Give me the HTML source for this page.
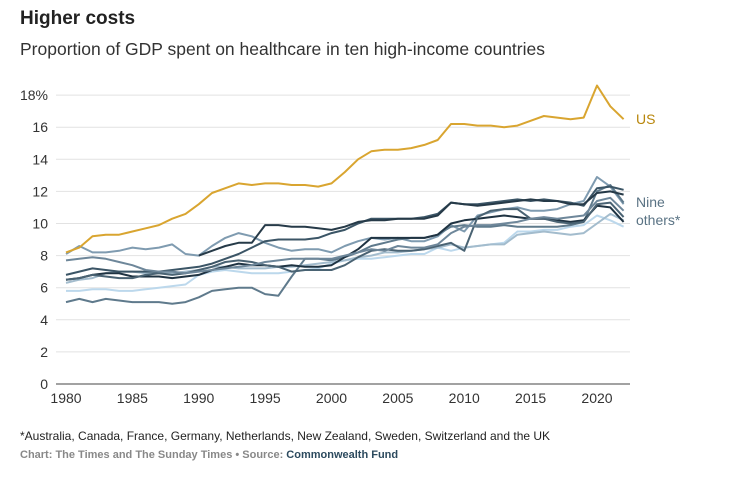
<!DOCTYPE html>
<html><head><meta charset="utf-8"><style>
body{margin:0;background:#fff;font-family:"Liberation Sans",Arial,sans-serif;}
svg{display:block}
</style></head><body>
<svg width="737" height="478" id="c">
<text x="20" y="24" font-size="19" font-weight="bold" fill="#222">Higher costs</text>
<text x="20" y="55" font-size="17.5" fill="#333">Proportion of GDP spent on healthcare in ten high-income countries</text>
<g id="grid"></g>
<g id="lines"></g>
<text x="636" y="124" font-size="14" fill="#b8860b">US</text>
<text x="636" y="207" font-size="14" fill="#5a7384">Nine</text>
<text x="636" y="225" font-size="14" fill="#5a7384">others*</text>
<text x="20" y="440" font-size="12" fill="#222">*Australia, Canada, France, Germany, Netherlands, New Zealand, Sweden, Switzerland and the UK</text>
<text x="20" y="458" font-size="11" font-weight="bold" fill="#888">Chart: The Times and The Sunday Times • Source: <tspan fill="#2c4a5e">Commonwealth Fund</tspan></text>
</svg>
<script>
const startYear=1980;
const xTicks=[1980,1985,1990,1995,2000,2005,2010,2015,2020];
const yTicks=[0,2,4,6,8,10,12,14,16,18];
const us=[8.2,8.5,9.2,9.3,9.3,9.5,9.7,9.9,10.3,10.6,11.2,11.9,12.2,12.5,12.4,12.5,12.5,12.4,12.4,12.3,12.5,13.2,14.0,14.5,14.6,14.6,14.7,14.9,15.2,16.2,16.2,16.1,16.1,16.0,16.1,16.4,16.7,16.6,16.5,16.6,18.6,17.3,16.5];
const s1=[5.8,5.8,5.9,5.9,5.8,5.8,5.9,6.0,6.1,6.2,6.8,7.0,7.1,7.0,6.9,6.9,6.9,7.0,7.1,7.2,7.5,7.7,7.8,7.8,7.9,8.0,8.1,8.1,8.5,8.3,8.5,8.6,8.7,8.8,9.5,9.5,9.6,9.6,9.8,9.9,10.5,10.2,9.8];
const s2=[8.1,8.6,8.2,8.2,8.3,8.5,8.4,8.5,8.7,8.1,8.0,8.6,9.1,9.4,9.2,8.8,8.5,8.3,8.4,8.4,8.2,8.6,8.9,9.1,9.0,9.1,8.9,8.9,9.2,9.9,9.5,10.5,10.7,10.9,11.0,10.8,10.8,10.9,11.2,11.4,12.9,12.3,11.2];
const s3=[5.1,5.3,5.1,5.3,5.2,5.1,5.1,5.1,5.0,5.1,5.4,5.8,5.9,6.0,6.0,5.6,5.5,6.7,7.8,7.8,7.7,7.9,8.2,8.6,8.8,9.0,9.1,9.1,9.3,9.8,9.9,9.8,9.8,9.9,9.8,9.8,9.8,9.8,9.9,10.1,12.0,12.4,11.3];
const s4=[6.3,6.5,6.6,6.9,7.0,7.0,6.9,6.9,6.9,7.0,7.1,7.3,7.3,7.2,7.2,7.2,7.3,7.3,7.4,7.5,7.6,7.7,7.9,8.0,8.2,8.2,8.3,8.4,8.5,8.7,8.5,8.6,8.7,8.7,9.3,9.4,9.5,9.4,9.3,9.4,10.0,10.6,10.2];
const s5=[6.5,6.6,6.8,6.9,6.9,6.7,6.7,6.7,6.6,6.7,6.8,7.1,7.3,7.5,7.4,7.4,7.3,7.4,7.3,7.3,7.4,7.9,8.4,9.1,9.1,9.1,9.1,9.1,9.3,10.0,10.2,10.3,10.4,10.5,10.4,10.3,10.3,10.2,10.1,10.2,11.1,11.0,10.1];
const s6=[6.5,6.6,6.8,6.7,6.6,6.6,6.8,6.9,6.8,6.9,7.1,7.3,7.6,7.7,7.6,7.4,7.3,7.0,7.1,7.1,7.1,7.4,7.9,8.3,8.4,8.3,8.3,8.4,8.6,8.8,8.3,10.4,10.8,10.9,10.9,10.3,10.3,10.1,10.0,10.1,11.2,11.3,10.4];
const s7=[6.8,7.0,7.2,7.1,7.0,7.0,7.0,7.0,7.1,7.2,7.3,7.5,7.8,8.1,8.5,8.9,9.0,9.0,9.0,9.1,9.4,9.6,10.0,10.3,10.3,10.3,10.3,10.4,10.6,11.3,11.2,11.2,11.3,11.4,11.5,11.4,11.5,11.4,11.3,11.1,12.2,12.3,12.1];
const s8=[null,null,null,null,null,null,null,null,null,null,8.0,8.3,8.6,8.8,8.8,9.9,9.9,9.8,9.8,9.7,9.6,9.8,10.1,10.2,10.2,10.3,10.3,10.3,10.5,11.3,11.2,11.1,11.2,11.3,11.4,11.5,11.4,11.4,11.2,11.2,11.9,12.0,11.8];
const s9=[7.7,7.8,7.9,7.8,7.6,7.4,7.1,7.0,7.0,6.9,7.0,7.1,7.2,7.3,7.4,7.6,7.7,7.8,7.8,7.8,7.8,8.0,8.2,8.4,8.3,8.6,8.5,8.5,8.7,9.4,9.8,9.9,9.9,10.0,10.1,10.3,10.4,10.3,10.4,10.5,11.4,11.6,10.8];
const others=[s1,s2,s3,s4,s5,s6,s7,s8,s9];
const colors=["#bcd8ec","#7f9bb0","#5f7a8c","#a3bccd","#1f3342","#4a6373","#3b5566","#263a48","#6e879a"];
const x=y=>66+(y-1980)*13.275;
const yv=v=>384-v*16.05;
const ns="http://www.w3.org/2000/svg";
const grid=document.getElementById('grid'),lines=document.getElementById('lines');
yTicks.forEach(t=>{
 const l=document.createElementNS(ns,'line');
 
 
 l.setAttribute('x1',56);l.setAttribute('x2',630);l.setAttribute('y1',yv(t));l.setAttribute('y2',yv(t));
 l.setAttribute('stroke',t===0?'#444':'#e2e2e2');l.setAttribute('stroke-width',1);
 grid.appendChild(l);
 const tx=document.createElementNS(ns,'text');
 
 
 tx.setAttribute('x',48);tx.setAttribute('y',yv(t)+5);tx.setAttribute('text-anchor','end');
 tx.setAttribute('font-size','14');tx.setAttribute('fill','#333');
 tx.textContent=t===18?'18%':t;grid.appendChild(tx);
});
xTicks.forEach(t=>{
 const tx=document.createElementNS(ns,'text');
 
 
 tx.setAttribute('x',x(t));tx.setAttribute('y',403);tx.setAttribute('text-anchor','middle');
 tx.setAttribute('font-size','14');tx.setAttribute('fill','#333');
 tx.textContent=t;grid.appendChild(tx);
});
function draw(arr,col,w,name){
 let d='',pen=false;
 arr.forEach((v,i)=>{if(v==null){pen=false;return;}d+=(pen?'L':'M')+x(startYear+i).toFixed(1)+','+yv(v).toFixed(1);pen=true;});
 const p=document.createElementNS(ns,'path');
 
 
 p.setAttribute('d',d);p.setAttribute('fill','none');p.setAttribute('stroke',col);p.setAttribute('stroke-width',w);p.setAttribute('stroke-linejoin','round');
 lines.appendChild(p);
}
others.forEach((s,i)=>draw(s,colors[i],2,'other-country-line'));
draw(us,'#d9a530',2,'us-line');
</script>
</body></html>
